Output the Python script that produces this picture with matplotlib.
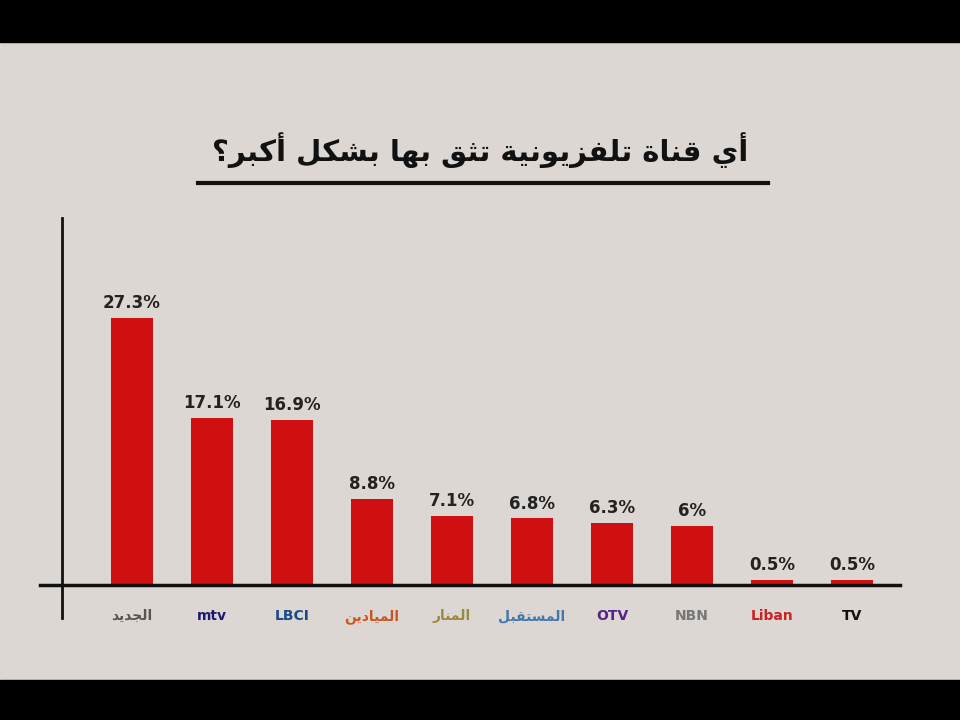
import matplotlib
matplotlib.use("Agg")
import matplotlib.pyplot as plt
from matplotlib.lines import Line2D

channels = ["الجديد", "mtv", "LBCI", "الميادين", "المنار", "المستقبل", "OTV", "NBN", "Liban", "TV"]
values = [27.3, 17.1, 16.9, 8.8, 7.1, 6.8, 6.3, 6.0, 0.5, 0.5]
labels = ["27.3%", "17.1%", "16.9%", "8.8%", "7.1%", "6.8%", "6.3%", "6%", "0.5%", "0.5%"]
title = "أي قناة تلفزيونية تثق بها بشكل أكبر؟"

FORMS = {
 'أ': (0xFE83, 0xFE84, None, None), 'ا': (0xFE8D, 0xFE8E, None, None),
 'ب': (0xFE8F, 0xFE90, 0xFE91, 0xFE92), 'ة': (0xFE93, 0xFE94, None, None),
 'ت': (0xFE95, 0xFE96, 0xFE97, 0xFE98), 'ث': (0xFE99, 0xFE9A, 0xFE9B, 0xFE9C),
 'ج': (0xFE9D, 0xFE9E, 0xFE9F, 0xFEA0), 'د': (0xFEA9, 0xFEAA, None, None),
 'ر': (0xFEAD, 0xFEAE, None, None), 'ز': (0xFEAF, 0xFEB0, None, None),
 'س': (0xFEB1, 0xFEB2, 0xFEB3, 0xFEB4),
 'ش': (0xFEB5, 0xFEB6, 0xFEB7, 0xFEB8), 'ف': (0xFED1, 0xFED2, 0xFED3, 0xFED4),
 'ق': (0xFED5, 0xFED6, 0xFED7, 0xFED8), 'ك': (0xFED9, 0xFEDA, 0xFEDB, 0xFEDC),
 'ل': (0xFEDD, 0xFEDE, 0xFEDF, 0xFEE0), 'م': (0xFEE1, 0xFEE2, 0xFEE3, 0xFEE4),
 'ن': (0xFEE5, 0xFEE6, 0xFEE7, 0xFEE8),
 'ه': (0xFEE9, 0xFEEA, 0xFEEB, 0xFEEC), 'و': (0xFEED, 0xFEEE, None, None),
 'ي': (0xFEF1, 0xFEF2, 0xFEF3, 0xFEF4),
}

def shape(s):
    out = []
    for i, c in enumerate(s):
        if c not in FORMS:
            out.append(c); continue
        prev = s[i-1] if i > 0 else ''
        nxt = s[i+1] if i + 1 < len(s) else ''
        jp = prev in FORMS and FORMS[prev][2] is not None
        jn = nxt in FORMS and FORMS[c][2] is not None
        f = FORMS[c]
        if jp and jn: code = f[3]
        elif jp: code = f[1]
        elif jn: code = f[2]
        else: code = f[0]
        out.append(chr(code))
    return "".join(out)[::-1]

def is_ar(s):
    return any('\u0600' <= ch <= '\u06ff' for ch in s)

fig = plt.figure(figsize=(9.6, 7.2), dpi=100)
fig.patch.set_facecolor("#dcd7d2")
fig.add_artist(plt.Rectangle((0, 1 - 42/720), 1, 42/720, transform=fig.transFigure, color="black"))
fig.add_artist(plt.Rectangle((0, 0), 1, 40/720, transform=fig.transFigure, color="black"))

ax = fig.add_axes([62/960, 135/720, 838/960, 367/720])
ax.set_facecolor("none")
x = list(range(len(values)))
ax.bar(x, values, width=0.53, color="#d01010")
for xi, v, l in zip(x, values, labels):
    ax.text(xi, v + 0.6, l, ha="center", va="bottom", fontsize=12, fontweight="bold",
            color="#222222", family="DejaVu Sans")
ax.set_xlim(-0.875, 9.6)
ax.set_ylim(0, 37.5)
for s in ax.spines.values():
    s.set_visible(False)
ax.set_xticks([]); ax.set_yticks([])

fig.add_artist(Line2D([40/960, 900/960], [135/720, 135/720], color="#111111", lw=2.5))
fig.add_artist(Line2D([62/960, 62/960], [102/720, 502/720], color="#111111", lw=2))
fig.add_artist(Line2D([198/960, 768/960], [537/720, 537/720], color="#111111", lw=3))

colors = ["#555555", "#1a1a6e", "#1a4a8a", "#cc5522", "#9a8a40", "#4477aa", "#552288", "#777777", "#cc2222", "#111111"]
for xi, c, col in zip(x, channels, colors):
    txt = shape(c) if is_ar(c) else c
    ax.text(xi, -3.2, txt, ha="center", va="center", fontsize=10, fontweight="bold",
            color=col, family="DejaVu Sans")

fig.text(0.5, 570/720, shape(title), ha="center", va="center", fontsize=21,
         fontweight="bold", color="#111111", family="DejaVu Sans")
fig.savefig("out.png", dpi=100, facecolor=fig.get_facecolor())
